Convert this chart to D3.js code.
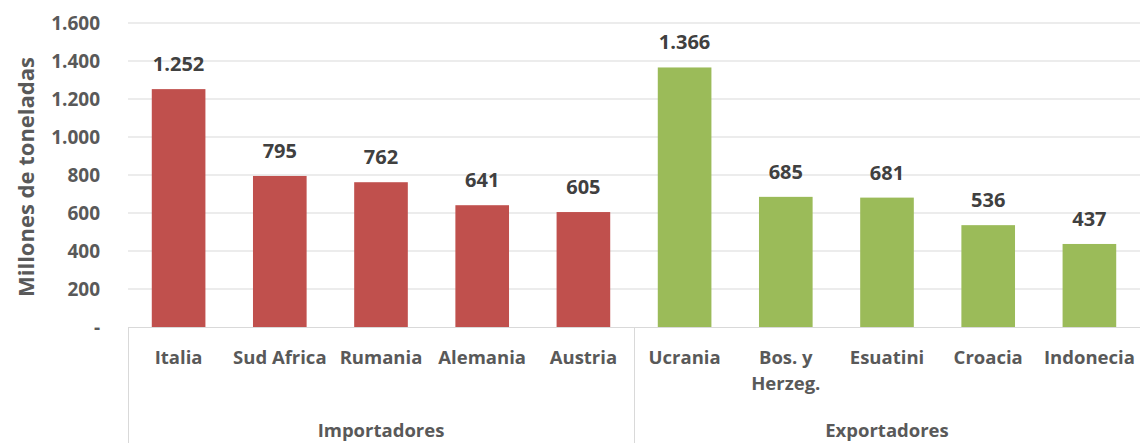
<!DOCTYPE html>
<html>
<head>
<meta charset="utf-8">
<script src="https://cdn.jsdelivr.net/npm/d3@7"></script>
<style>
  body { margin: 0; background: #fff; }
  text { font-family: "Open Sans", Lato, sans-serif; font-weight: bold; }
</style>
</head>
<body>
<script>
const width = 1140;
const height = 443;

// data
const importadores = ["Italia", "Sud Africa", "Rumania", "Alemania", "Austria"];
const importValues = [1252, 795, 762, 641, 605];
const exportadores = ["Ucrania", "Bos. y|Herzeg.", "Esuatini", "Croacia", "Indonecia"];
const exportValues = [1366, 685, 681, 536, 437];
const groups = ["Importadores", "Exportadores"];
const yTicks = [0, 200, 400, 600, 800, 1000, 1200, 1400, 1600];

const colors = { Importadores: "#C0504D", Exportadores: "#9BBB59" };

const data = importadores.map((c, i) => ({ cat: c, value: importValues[i], group: "Importadores" }))
  .concat(exportadores.map((c, i) => ({ cat: c, value: exportValues[i], group: "Exportadores" })));

const margin = { top: 23, left: 128, right: 0, bottom: 116 };
const plotBottom = height - margin.bottom;

const locale = d3.formatLocale({ decimal: ",", thousands: ".", grouping: [3], currency: ["", "€"] });
const fmt = v => v === 0 ? "-" : locale.format(",.0f")(v);

const svg = d3.select("body").append("svg")
  .attr("width", width)
  .attr("height", height);

const x = d3.scaleBand()
  .domain(data.map(d => d.cat))
  .range([margin.left, width - margin.right])
  .paddingInner(0.47)
  .paddingOuter(0.235);

const y = d3.scaleLinear()
  .domain([0, 1600])
  .range([plotBottom, margin.top]);

// gridlines
svg.append("g")
  .selectAll("line")
  .data(yTicks.filter(t => t > 0))
  .enter().append("line")
  .attr("x1", margin.left)
  .attr("x2", width)
  .attr("y1", d => y(d))
  .attr("y2", d => y(d))
  .attr("stroke", "#d9d9d9")
  .attr("stroke-width", 1);

// y labels
svg.append("g")
  .selectAll("text")
  .data(yTicks)
  .enter().append("text")
  .attr("x", 100)
  .attr("y", d => y(d))
  .attr("dy", "0.35em")
  .attr("text-anchor", "end")
  .attr("fill", "#595959")
  .style("font-size", "19px")
  .text(fmt);

svg.append("text")
  .attr("transform", "translate(26," + ((margin.top + plotBottom) / 2 + 2) + ") rotate(-90)")
  .attr("text-anchor", "middle")
  .attr("dy", "0.35em")
  .attr("fill", "#595959")
  .style("font-size", "22px")
  .text("Millones de toneladas");

// category axis lines
const axisG = svg.append("g").attr("stroke", "#d9d9d9").attr("stroke-width", 1);
axisG.append("line")
  .attr("x1", margin.left).attr("x2", width)
  .attr("y1", plotBottom + 0.5).attr("y2", plotBottom + 0.5);
const step = x.step();
const sepX = [margin.left, x(exportadores[0]) - (step - x.bandwidth()) / 2];
axisG.selectAll("line.sep")
  .data(sepX)
  .enter().append("line")
  .attr("class", "sep")
  .attr("x1", d => Math.round(d) + 0.5)
  .attr("x2", d => Math.round(d) + 0.5)
  .attr("y1", plotBottom)
  .attr("y2", height);

// bars
svg.append("g")
  .selectAll("rect")
  .data(data)
  .enter().append("rect")
  .attr("x", d => x(d.cat))
  .attr("y", d => y(d.value))
  .attr("width", x.bandwidth())
  .attr("height", d => plotBottom - y(d.value))
  .attr("fill", d => colors[d.group]);

// value labels
svg.append("g")
  .selectAll("text")
  .data(data)
  .enter().append("text")
  .attr("x", d => x(d.cat) + x.bandwidth() / 2)
  .attr("y", d => y(d.value) - 18)
  .attr("text-anchor", "middle")
  .attr("fill", "#404040")
  .style("font-size", "20px")
  .text(d => fmt(d.value));

// category labels
const catText = svg.append("g")
  .selectAll("text")
  .data(data)
  .enter().append("text")
  .attr("x", d => x(d.cat) + x.bandwidth() / 2)
  .attr("y", 364)
  .attr("text-anchor", "middle")
  .attr("fill", "#595959")
  .style("font-size", "18.5px");
catText.selectAll("tspan")
  .data(d => d.cat.split("|"))
  .enter().append("tspan")
  .attr("x", function() { return d3.select(this.parentNode).attr("x"); })
  .attr("dy", (d, i) => i === 0 ? 0 : 26)
  .text(d => d);

// group labels
svg.append("g")
  .selectAll("text")
  .data(groups)
  .enter().append("text")
  .attr("x", g => {
    const cats = data.filter(d => d.group === g).map(d => x(d.cat));
    return (d3.min(cats) + d3.max(cats) + x.bandwidth()) / 2;
  })
  .attr("y", 437)
  .attr("text-anchor", "middle")
  .attr("fill", "#595959")
  .style("font-size", "18.5px")
  .text(g => g);
</script>
</body>
</html>
